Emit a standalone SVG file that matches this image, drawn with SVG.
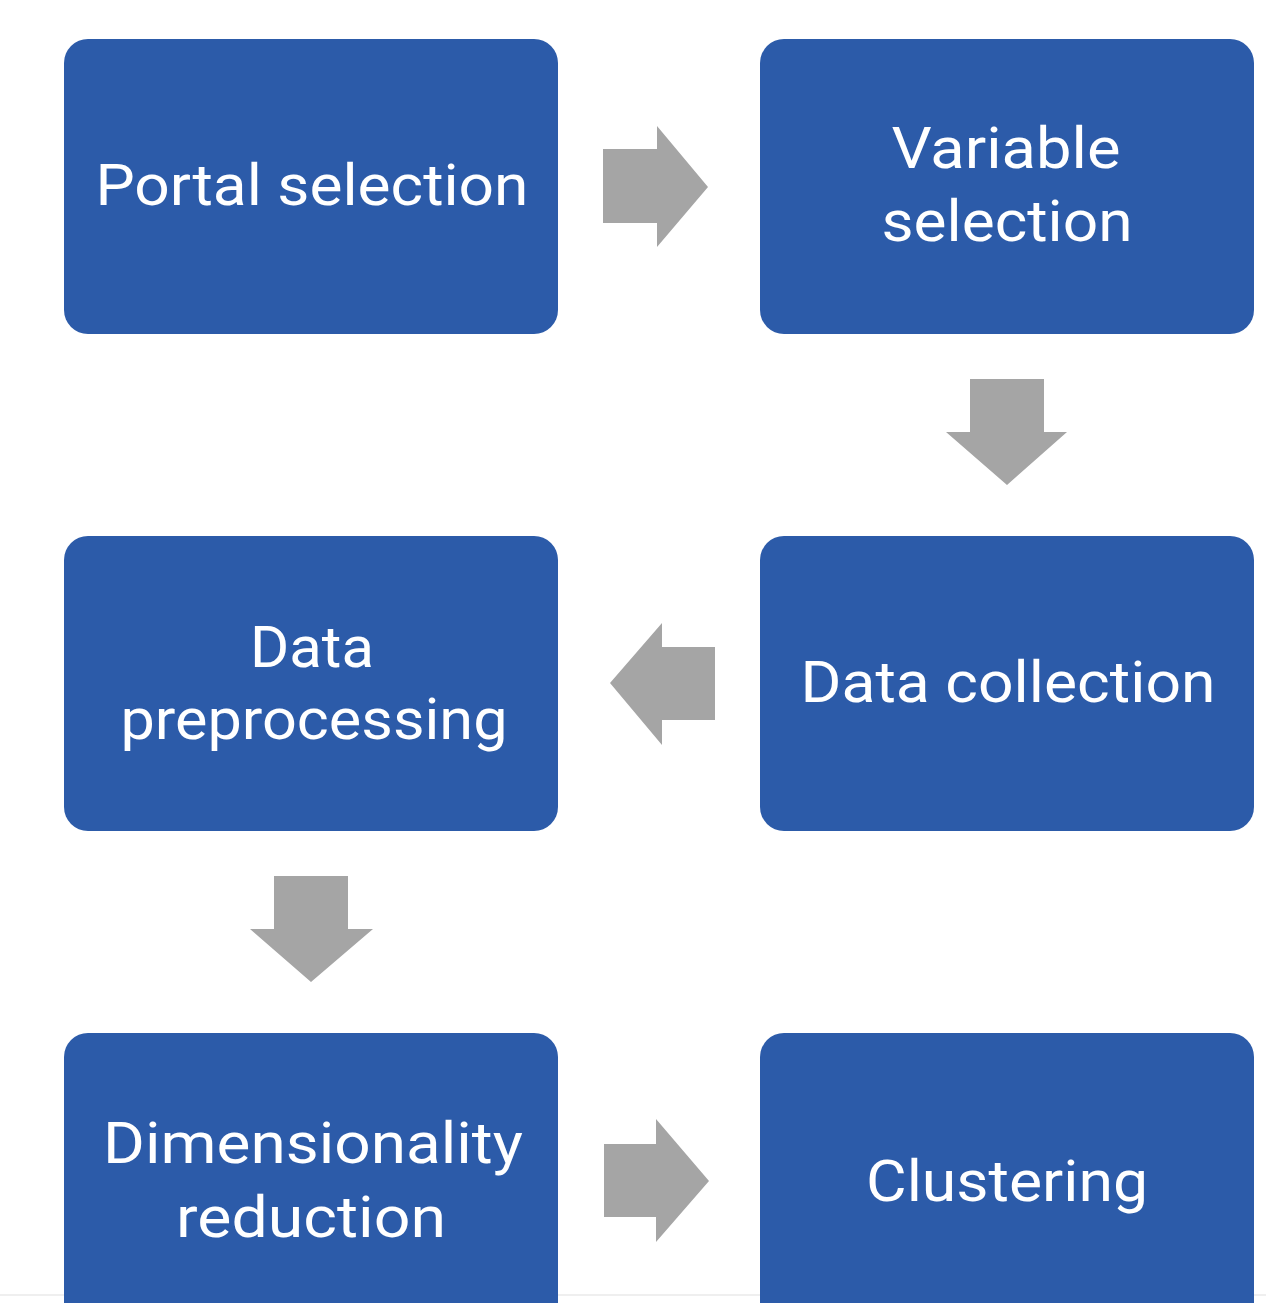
<svg xmlns="http://www.w3.org/2000/svg" width="1266" height="1303" viewBox="0 0 1266 1303">
<style>
.box{fill:#2C5BA9;}
.arrow{fill:#A5A5A5;}
.lbl{font-family:Roboto,"Open Sans","Liberation Sans",sans-serif;font-size:58px;fill:#FFFFFF;text-anchor:middle;font-variant-ligatures:none;}
</style>
<rect x="0" y="0" width="1266" height="1303" fill="#FFFFFF"/>
<rect x="0" y="1294" width="1266" height="2" fill="#EFEFEF"/>
<g id="connectors">
<polygon class="arrow" points="603,149 657,149 657,126 708,187 657,247 657,223 603,223"/>
<polygon class="arrow" points="970,379 1044,379 1044,432 1067,432 1007,485 946,432 970,432"/>
<polygon class="arrow" points="715,647 662,647 662,623 610,683 662,745 662,720 715,720"/>
<polygon class="arrow" points="274,876 348,876 348,929 373,929 311,982 250,929 274,929"/>
<polygon class="arrow" points="604,1144 656,1144 656,1119 709,1181 656,1242 656,1217 604,1217"/>
</g>
<g id="portal-selection">
<rect class="box" x="64" y="39" width="494" height="295" rx="24" ry="24"/>
<text class="lbl" x="312" y="205" textLength="433" lengthAdjust="spacingAndGlyphs">Portal selection</text>
</g>
<g id="variable-selection">
<rect class="box" x="760" y="39" width="494" height="295" rx="24" ry="24"/>
<text class="lbl" x="1006" y="168" textLength="229" lengthAdjust="spacingAndGlyphs">Variable</text>
<text class="lbl" x="1007" y="241" textLength="251" lengthAdjust="spacingAndGlyphs">selection</text>
</g>
<g id="data-collection">
<rect class="box" x="760" y="536" width="494" height="295" rx="24" ry="24"/>
<text class="lbl" x="1008" y="702" textLength="415" lengthAdjust="spacingAndGlyphs">Data collection</text>
</g>
<g id="data-preprocessing">
<rect class="box" x="64" y="536" width="494" height="295" rx="24" ry="24"/>
<text class="lbl" x="312" y="667" textLength="124" lengthAdjust="spacingAndGlyphs">Data</text>
<text class="lbl" x="314" y="739" textLength="387" lengthAdjust="spacingAndGlyphs">preprocessing</text>
</g>
<g id="dimensionality-reduction">
<rect class="box" x="64" y="1033" width="494" height="295" rx="24" ry="24"/>
<text class="lbl" x="313" y="1163" textLength="420" lengthAdjust="spacingAndGlyphs">Dimensionality</text>
<text class="lbl" x="311" y="1237" textLength="270" lengthAdjust="spacingAndGlyphs">reduction</text>
</g>
<g id="clustering">
<rect class="box" x="760" y="1033" width="494" height="295" rx="24" ry="24"/>
<text class="lbl" x="1007" y="1201" textLength="282" lengthAdjust="spacingAndGlyphs">Clustering</text>
</g>
</svg>
